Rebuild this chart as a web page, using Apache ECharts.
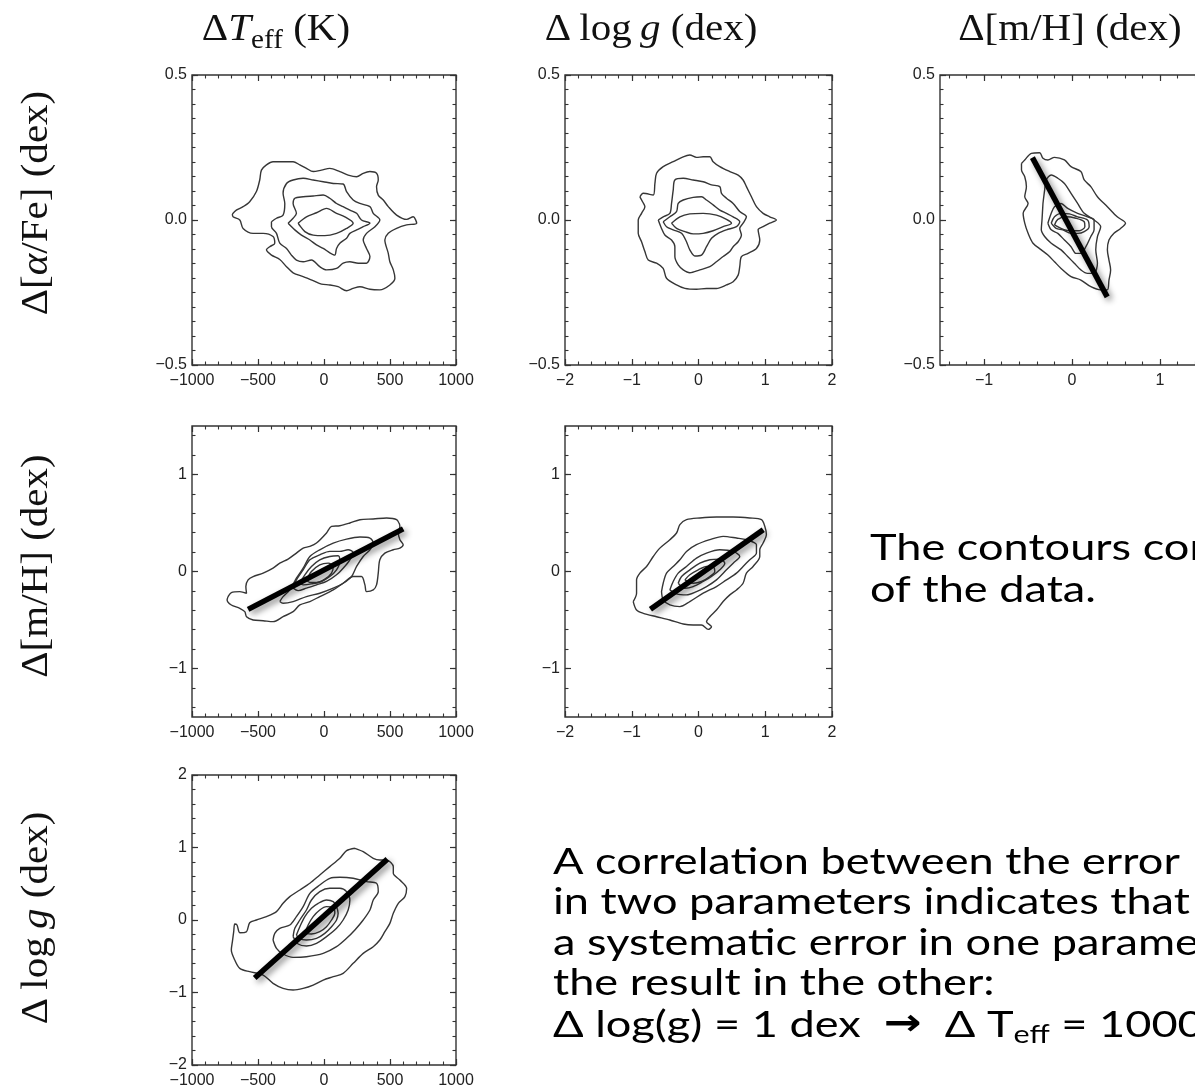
<!DOCTYPE html>
<html>
<head>
<meta charset="utf-8">
<script src="https://cdn.jsdelivr.net/npm/echarts@6/dist/echarts.min.js"></script>
<style>
  html, body { margin: 0; padding: 0; background: #ffffff; }
  #chart { width: 1195px; height: 1091px; }
</style>
</head>
<body>
<div id="chart"></div>
<script>
// ---- major tick values ----
const teffTicks = [-1000, -500, 0, 500, 1000];
const alphaTicks = [-0.5, 0, 0.5];
const loggTicksX = [-2, -1, 0, 1, 2];
const mhTicksX = [-1, 0, 1];
const mhTicksY = [-1, 0, 1];
const loggTicksY = [-2, -1, 0, 1, 2];

// ---- dTeff vs d[alpha/Fe] contours (K, dex) ----
const teffAlphaOuter = [[-694,0.021],[-664,0.034],[-613,0.046],[-563,0.063],[-512,0.098],[-487,0.138],[-474,0.172],[-436,0.190],[-386,0.201],[-234,0.201],[-183,0.190],[-133,0.178],[-82,0.167],[-19,0.172],[44,0.178],[120,0.167],[183,0.155],[247,0.149],[297,0.161],[348,0.167],[398,0.161],[411,0.138],[398,0.115],[411,0.086],[449,0.069],[487,0.046],[550,0.017],[626,0.002],[676,0.011],[702,-0.011],[626,-0.017],[550,-0.029],[487,-0.046],[461,-0.069],[487,-0.115],[499,-0.144],[525,-0.172],[537,-0.201],[499,-0.224],[423,-0.241],[348,-0.239],[272,-0.230],[221,-0.236],[171,-0.244],[107,-0.230],[44,-0.224],[-19,-0.221],[-82,-0.209],[-158,-0.195],[-234,-0.182],[-284,-0.161],[-335,-0.136],[-398,-0.121],[-436,-0.103],[-411,-0.092],[-373,-0.080],[-386,-0.057],[-461,-0.046],[-537,-0.046],[-613,-0.029],[-638,0],[-689,0.011],[-694,0.021]];
const teffAlphaL2 = [[-398,-0.006],[-360,0.006],[-310,0.017],[-297,0.057],[-310,0.092],[-284,0.126],[-234,0.138],[-158,0.144],[-82,0.138],[-6,0.132],[70,0.126],[145,0.124],[171,0.098],[221,0.069],[272,0.057],[348,0.046],[373,0.023],[423,0],[386,-0.023],[322,-0.046],[297,-0.069],[322,-0.098],[348,-0.126],[322,-0.149],[259,-0.149],[196,-0.144],[145,-0.149],[95,-0.167],[19,-0.172],[-32,-0.161],[-95,-0.138],[-158,-0.144],[-209,-0.138],[-247,-0.121],[-284,-0.098],[-335,-0.080],[-360,-0.046],[-398,-0.023],[-398,-0.006]];
const teffAlphaL3 = [[-272,-0.011],[-234,0.006],[-209,0.023],[-234,0.057],[-221,0.075],[-158,0.080],[-82,0.083],[-6,0.086],[44,0.075],[95,0.057],[145,0.046],[196,0.034],[247,0.023],[284,0],[348,-0.011],[297,-0.023],[247,-0.034],[196,-0.046],[171,-0.063],[120,-0.080],[95,-0.098],[82,-0.121],[44,-0.113],[-6,-0.098],[-57,-0.086],[-107,-0.069],[-171,-0.052],[-221,-0.034],[-272,-0.011]];
const teffAlphaInner = [[-196,-0.011],[-133,0.011],[-57,0.025],[19,0.040],[95,0.023],[158,0.011],[221,-0.011],[171,-0.029],[95,-0.046],[6,-0.054],[-82,-0.052],[-145,-0.040],[-196,-0.011]];
const teffAlphaSpots = [[-335,0.155]];

// ---- dlogg vs d[alpha/Fe] contours (dex, dex) ----
const loggAlphaOuter = [[-0.878,0.080],[-0.828,0.092],[-0.678,0.086],[-0.653,0.126],[-0.628,0.161],[-0.529,0.184],[-0.379,0.201],[-0.229,0.218],[-0.130,0.224],[-0.030,0.216],[0.070,0.218],[0.170,0.218],[0.219,0.201],[0.319,0.184],[0.469,0.167],[0.594,0.155],[0.668,0.138],[0.718,0.115],[0.793,0.080],[0.868,0.046],[0.968,0.023],[1.067,0.011],[1.167,0],[1.067,-0.011],[0.968,-0.023],[0.893,-0.034],[0.918,-0.069],[0.868,-0.098],[0.743,-0.115],[0.643,-0.126],[0.618,-0.161],[0.594,-0.190],[0.519,-0.213],[0.419,-0.224],[0.269,-0.236],[0.120,-0.236],[-0.030,-0.239],[-0.204,-0.236],[-0.329,-0.224],[-0.479,-0.201],[-0.529,-0.167],[-0.628,-0.149],[-0.753,-0.138],[-0.803,-0.109],[-0.853,-0.075],[-0.903,-0.046],[-0.903,0],[-0.853,0.023],[-0.803,0.046],[-0.838,0.063],[-0.878,0.080]];
const loggAlphaL2 = [[-0.603,0],[-0.529,0.011],[-0.429,0.023],[-0.404,0.057],[-0.379,0.103],[-0.354,0.138],[-0.229,0.144],[-0.080,0.138],[0.070,0.132],[0.195,0.121],[0.319,0.115],[0.344,0.092],[0.419,0.075],[0.519,0.057],[0.618,0.029],[0.718,0.011],[0.668,-0.011],[0.618,-0.029],[0.643,-0.052],[0.594,-0.075],[0.519,-0.092],[0.469,-0.109],[0.369,-0.126],[0.269,-0.144],[0.170,-0.161],[0.020,-0.172],[-0.130,-0.182],[-0.229,-0.172],[-0.304,-0.155],[-0.354,-0.126],[-0.354,-0.092],[-0.404,-0.069],[-0.504,-0.052],[-0.554,-0.029],[-0.603,0]];
const loggAlphaL3 = [[-0.529,-0.006],[-0.429,0.011],[-0.329,0.029],[-0.304,0.057],[-0.229,0.069],[-0.080,0.078],[0.045,0.080],[0.120,0.069],[0.219,0.052],[0.319,0.034],[0.419,0.023],[0.519,0.011],[0.618,-0.006],[0.569,-0.023],[0.419,-0.034],[0.294,-0.046],[0.195,-0.063],[0.120,-0.092],[0.045,-0.121],[-0.055,-0.124],[-0.130,-0.103],[-0.180,-0.075],[-0.254,-0.046],[-0.379,-0.034],[-0.479,-0.023],[-0.529,-0.006]];
const loggAlphaInner = [[-0.404,-0.011],[-0.279,0.011],[-0.130,0.021],[0.070,0.023],[0.269,0.017],[0.419,0.002],[0.494,-0.011],[0.369,-0.023],[0.219,-0.037],[0.070,-0.046],[-0.080,-0.048],[-0.204,-0.040],[-0.329,-0.029],[-0.404,-0.011]];

// ---- d[m/H] vs d[alpha/Fe] contours (dex, dex) ----
const mhAlphaOuter = [[-0.574,0.195],[-0.537,0.207],[-0.462,0.230],[-0.368,0.232],[-0.330,0.213],[-0.274,0.207],[-0.199,0.216],[-0.086,0.207],[-0.011,0.184],[0.101,0.167],[0.139,0.138],[0.214,0.115],[0.289,0.080],[0.402,0.046],[0.514,0.011],[0.608,-0.011],[0.552,-0.029],[0.477,-0.046],[0.420,-0.069],[0.402,-0.103],[0.420,-0.138],[0.439,-0.172],[0.420,-0.207],[0.402,-0.241],[0.326,-0.241],[0.214,-0.230],[0.101,-0.207],[-0.011,-0.195],[-0.124,-0.167],[-0.199,-0.144],[-0.274,-0.121],[-0.349,-0.103],[-0.443,-0.080],[-0.499,-0.046],[-0.537,-0.011],[-0.555,0.023],[-0.499,0.057],[-0.537,0.080],[-0.518,0.115],[-0.537,0.149],[-0.574,0.172],[-0.574,0.195]];
const mhAlphaL2 = [[-0.330,0.057],[-0.311,0.103],[-0.293,0.138],[-0.236,0.155],[-0.161,0.144],[-0.086,0.126],[-0.011,0.092],[0.064,0.057],[0.139,0.023],[0.251,0],[0.326,-0.023],[0.289,-0.057],[0.270,-0.103],[0.289,-0.149],[0.251,-0.184],[0.176,-0.184],[0.101,-0.172],[0.026,-0.149],[-0.049,-0.126],[-0.124,-0.103],[-0.236,-0.080],[-0.311,-0.057],[-0.349,-0.034],[-0.341,0],[-0.330,0.057]];
const mhAlphaL3 = [[-0.274,-0.011],[-0.236,0.023],[-0.199,0.046],[-0.124,0.057],[-0.049,0.040],[0.064,0.023],[0.176,0.011],[0.251,0],[0.251,-0.034],[0.214,-0.057],[0.158,-0.092],[0.101,-0.115],[0.045,-0.115],[-0.011,-0.092],[-0.086,-0.069],[-0.161,-0.046],[-0.236,-0.034],[-0.274,-0.011]];
const mhAlphaL4 = [[-0.236,-0.011],[-0.199,0.011],[-0.124,0.023],[-0.030,0.021],[0.064,0.011],[0.176,0],[0.195,-0.023],[0.139,-0.040],[0.064,-0.046],[-0.011,-0.046],[-0.105,-0.034],[-0.180,-0.029],[-0.236,-0.011]];
const mhAlphaInner = [[-0.199,-0.017],[-0.161,0.002],[-0.068,0.011],[0.045,0.006],[0.139,-0.006],[0.146,-0.023],[0.083,-0.037],[-0.030,-0.037],[-0.124,-0.029],[-0.199,-0.017]];
const mhAlphaSpots = [[-0.687,0.002]];
const mhAlphaFit = [[-0.45,0.215],[0.40,-0.265]];

// ---- dTeff vs d[m/H] contours (K, dex) ----
const teffMhOuter = [[-727,-0.259],[-702,-0.217],[-638,-0.207],[-587,-0.224],[-592,-0.155],[-575,-0.086],[-537,-0.052],[-461,-0.017],[-386,0.034],[-335,0.086],[-272,0.128],[-209,0.190],[-158,0.241],[-107,0.259],[-57,0.293],[19,0.397],[57,0.466],[120,0.472],[196,0.500],[272,0.534],[373,0.541],[474,0.552],[550,0.534],[575,0.466],[563,0.397],[575,0.328],[600,0.276],[575,0.241],[525,0.224],[461,0.190],[423,0.121],[411,-0.017],[398,-0.138],[373,-0.190],[322,-0.207],[310,-0.138],[284,-0.052],[221,-0.052],[145,-0.121],[70,-0.190],[-32,-0.259],[-107,-0.310],[-183,-0.345],[-234,-0.414],[-310,-0.466],[-386,-0.517],[-461,-0.507],[-537,-0.500],[-587,-0.466],[-600,-0.414],[-638,-0.379],[-702,-0.345],[-734,-0.293],[-727,-0.259]];
const teffMhL2 = [[-335,-0.310],[-310,-0.259],[-259,-0.190],[-209,-0.069],[-158,0.034],[-107,0.155],[-32,0.224],[70,0.293],[171,0.334],[272,0.355],[348,0.345],[373,0.293],[348,0.224],[297,0.155],[247,0.052],[209,-0.052],[145,-0.121],[70,-0.172],[-32,-0.224],[-133,-0.259],[-234,-0.310],[-310,-0.328],[-335,-0.310]];
const teffMhL3 = [[-234,-0.172],[-209,-0.086],[-158,0.017],[-107,0.121],[-32,0.172],[44,0.207],[120,0.207],[183,0.224],[221,0.197],[196,0.121],[145,0.034],[95,-0.034],[19,-0.103],[-57,-0.138],[-133,-0.172],[-196,-0.197],[-234,-0.172]];
const teffMhL4 = [[-183,-0.121],[-145,-0.034],[-95,0.052],[-32,0.121],[44,0.155],[107,0.162],[120,0.103],[95,0.017],[44,-0.052],[-19,-0.103],[-95,-0.128],[-158,-0.138],[-183,-0.121]];
const teffMhInner = [[-133,-0.086],[-95,0],[-32,0.069],[32,0.086],[70,0.052],[57,-0.017],[6,-0.079],[-57,-0.114],[-107,-0.114],[-133,-0.086]];
const teffMhSpots = [[588,0.528]];
const teffMhFit = [[-575,-0.39],[600,0.44]];

// ---- dlogg vs d[m/H] contours (dex, dex) ----
const loggMhOuter = [[-0.978,-0.310],[-0.928,-0.224],[-0.928,-0.086],[-0.878,-0.017],[-0.778,0.052],[-0.678,0.155],[-0.579,0.241],[-0.429,0.328],[-0.329,0.397],[-0.279,0.483],[-0.180,0.534],[0.020,0.552],[0.269,0.562],[0.519,0.562],[0.768,0.552],[0.943,0.534],[0.993,0.466],[1.017,0.379],[0.968,0.293],[0.918,0.224],[0.918,0.155],[0.818,0.052],[0.718,-0.017],[0.668,-0.121],[0.569,-0.190],[0.469,-0.241],[0.369,-0.310],[0.269,-0.397],[0.170,-0.466],[0.120,-0.517],[0.195,-0.569],[0.145,-0.597],[0.045,-0.552],[-0.080,-0.552],[-0.229,-0.541],[-0.429,-0.500],[-0.628,-0.466],[-0.828,-0.431],[-0.928,-0.397],[-0.978,-0.310]];
const loggMhL2 = [[-0.554,-0.207],[-0.529,-0.121],[-0.479,-0.017],[-0.379,0.052],[-0.279,0.121],[-0.180,0.207],[-0.030,0.276],[0.170,0.328],[0.369,0.362],[0.569,0.345],[0.718,0.328],[0.868,0.276],[0.868,0.190],[0.768,0.121],[0.668,0.052],[0.569,-0.017],[0.419,-0.086],[0.269,-0.155],[0.070,-0.224],[-0.130,-0.310],[-0.279,-0.362],[-0.429,-0.345],[-0.529,-0.293],[-0.554,-0.207]];
const loggMhL3 = [[-0.429,-0.190],[-0.379,-0.103],[-0.304,-0.017],[-0.180,0.052],[-0.030,0.138],[0.120,0.190],[0.319,0.224],[0.519,0.207],[0.618,0.155],[0.519,0.086],[0.419,0.017],[0.269,-0.086],[0.120,-0.155],[-0.030,-0.207],[-0.180,-0.241],[-0.329,-0.231],[-0.429,-0.190]];
const loggMhL4 = [[-0.304,-0.121],[-0.254,-0.052],[-0.130,0.017],[0.020,0.086],[0.170,0.121],[0.319,0.128],[0.394,0.086],[0.319,0.017],[0.195,-0.052],[0.070,-0.103],[-0.080,-0.155],[-0.204,-0.172],[-0.304,-0.121]];
const loggMhInner = [[-0.204,-0.086],[-0.130,-0.034],[-0.005,0.017],[0.120,0.052],[0.219,0.052],[0.244,0],[0.170,-0.052],[0.045,-0.103],[-0.080,-0.121],[-0.204,-0.086]];
const loggMhSpots = [[-0.26,-0.67]];
const loggMhFit = [[-0.72,-0.39],[0.97,0.43]];

// ---- dTeff vs dlogg contours (K, dex) ----
const teffLoggOuter = [[234,0.989],[297,0.943],[373,0.851],[423,0.828],[474,0.828],[525,0.736],[525,0.644],[575,0.552],[626,0.437],[613,0.322],[563,0.230],[525,0.092],[499,-0.046],[461,-0.161],[423,-0.276],[373,-0.368],[297,-0.460],[221,-0.598],[145,-0.736],[70,-0.782],[-6,-0.828],[-82,-0.897],[-158,-0.943],[-234,-0.966],[-310,-0.943],[-386,-0.874],[-461,-0.759],[-563,-0.713],[-638,-0.667],[-676,-0.552],[-702,-0.414],[-694,-0.299],[-684,-0.161],[-676,-0.055],[-659,-0.069],[-638,-0.175],[-587,-0.161],[-563,-0.037],[-512,0],[-436,0.046],[-360,0.115],[-310,0.230],[-259,0.322],[-183,0.414],[-107,0.506],[-32,0.621],[44,0.736],[120,0.851],[171,0.956],[234,0.989]];
const teffLoggL2 = [[-386,-0.276],[-373,-0.184],[-335,-0.115],[-259,-0.069],[-209,0.046],[-158,0.184],[-107,0.368],[-32,0.483],[44,0.575],[120,0.589],[221,0.575],[322,0.529],[398,0.506],[411,0.391],[373,0.276],[348,0.138],[297,0],[234,-0.138],[171,-0.253],[95,-0.368],[-6,-0.460],[-133,-0.506],[-234,-0.515],[-310,-0.469],[-360,-0.391],[-386,-0.276]];
const teffLoggL3 = [[-234,-0.230],[-221,-0.115],[-183,0],[-133,0.138],[-95,0.276],[-32,0.391],[44,0.437],[120,0.437],[171,0.391],[196,0.276],[183,0.138],[145,0],[95,-0.115],[19,-0.230],[-57,-0.322],[-133,-0.359],[-196,-0.331],[-234,-0.230]];
const teffLoggL4 = [[-209,-0.207],[-183,-0.092],[-145,0.046],[-95,0.161],[-44,0.230],[19,0.276],[70,0.253],[95,0.184],[107,0.092],[95,0],[57,-0.092],[6,-0.184],[-57,-0.253],[-133,-0.276],[-183,-0.262],[-209,-0.207]];
const teffLoggInner = [[-145,-0.184],[-120,-0.069],[-82,0.046],[-32,0.138],[19,0.184],[70,0.175],[82,0.092],[57,0],[19,-0.092],[-32,-0.161],[-95,-0.193],[-145,-0.184]];
const teffLoggSpots = [[626,0.84],[-272,-1.07]];
const teffLoggFit = [[-525,-0.80],[480,0.84]];

// ---- panel layout ----
const panels = [
  { box: { left: 192, top: 75, width: 264, height: 290 }, x: [-1000, 1000], y: [-0.5, 0.5],
    xt: teffTicks, yt: alphaTicks, xStep: 100, yStep: 0.05, xd: 0, yd: 1,
    lines: [teffAlphaOuter, teffAlphaL2, teffAlphaL3, teffAlphaInner], spots: teffAlphaSpots, fit: null },
  { box: { left: 565, top: 75, width: 267, height: 290 }, x: [-2, 2], y: [-0.5, 0.5],
    xt: loggTicksX, yt: alphaTicks, xStep: 0.2, yStep: 0.05, xd: 0, yd: 1,
    lines: [loggAlphaOuter, loggAlphaL2, loggAlphaL3, loggAlphaInner], spots: [], fit: null },
  { box: { left: 940, top: 75, width: 264, height: 290 }, x: [-1.5, 1.5], y: [-0.5, 0.5],
    xt: mhTicksX, yt: alphaTicks, xStep: 0.2, yStep: 0.05, xd: 0, yd: 1,
    lines: [mhAlphaOuter, mhAlphaL2, mhAlphaL3, mhAlphaL4, mhAlphaInner], spots: mhAlphaSpots, fit: mhAlphaFit },
  { box: { left: 192, top: 426, width: 264, height: 291 }, x: [-1000, 1000], y: [-1.5, 1.5],
    xt: teffTicks, yt: mhTicksY, xStep: 100, yStep: 0.2, xd: 0, yd: 0,
    lines: [teffMhOuter, teffMhL2, teffMhL3, teffMhL4, teffMhInner], spots: teffMhSpots, fit: teffMhFit },
  { box: { left: 565, top: 426, width: 267, height: 291 }, x: [-2, 2], y: [-1.5, 1.5],
    xt: loggTicksX, yt: mhTicksY, xStep: 0.2, yStep: 0.2, xd: 0, yd: 0,
    lines: [loggMhOuter, loggMhL2, loggMhL3, loggMhL4, loggMhInner], spots: loggMhSpots, fit: loggMhFit },
  { box: { left: 192, top: 775, width: 264, height: 290 }, x: [-1000, 1000], y: [-2, 2],
    xt: teffTicks, yt: loggTicksY, xStep: 100, yStep: 0.2, xd: 0, yd: 0,
    lines: [teffLoggOuter, teffLoggL2, teffLoggL3, teffLoggL4, teffLoggInner], spots: teffLoggSpots, fit: teffLoggFit }
];

const INK = '#333333';
const LABEL_FONT = 'Liberation Sans';
const SERIF = 'Liberation Serif';
const SANS = 'Lato';

// minor tick positions between min and max, aligned on multiples of step
function minorValues(min, max, step) {
  const out = [];
  const k0 = Math.ceil(min / step - 1e-9), k1 = Math.floor(max / step + 1e-9);
  for (let k = k0; k <= k1; k++) out.push(+(k * step).toFixed(6));
  return out;
}
function fmt(d) {
  return function (v) {
    const s = Math.abs(v).toFixed(d);
    return v < -1e-9 ? '\u2212' + s : s;
  };
}

const grids = [], xAxes = [], yAxes = [], series = [];

panels.forEach(function (p, i) {
  grids.push(Object.assign({ show: true, borderColor: INK, borderWidth: 1.4,
    backgroundColor: 'transparent', containLabel: false, outerBoundsMode: 'none' }, p.box));

  const xMinor = minorValues(p.x[0], p.x[1], p.xStep);
  const yMinor = minorValues(p.y[0], p.y[1], p.yStep);
  const common = { gridIndex: i, type: 'value', splitLine: { show: false },
    axisLine: { show: false, onZero: false }, silent: true };

  // bottom / top x axes: labelled majors, then minor ticks, mirrored on top
  [['bottom', true], ['top', false]].forEach(function (cfg) {
    xAxes.push(Object.assign({}, common, {
      position: cfg[0], min: p.x[0], max: p.x[1],
      axisTick: { show: true, inside: true, length: 6, customValues: p.xt, lineStyle: { color: INK, width: 1.2 } },
      axisLabel: { show: cfg[1], customValues: p.xt, formatter: fmt(p.xd), margin: 8,
        fontFamily: LABEL_FONT, fontSize: 16, color: '#222' }
    }));
    xAxes.push(Object.assign({}, common, {
      position: cfg[0], min: p.x[0], max: p.x[1],
      axisTick: { show: true, inside: true, length: 3.5, customValues: xMinor, lineStyle: { color: INK, width: 1.1 } },
      axisLabel: { show: false }
    }));
  });
  [['left', true], ['right', false]].forEach(function (cfg) {
    yAxes.push(Object.assign({}, common, {
      position: cfg[0], min: p.y[0], max: p.y[1],
      axisTick: { show: true, inside: true, length: 6, customValues: p.yt, lineStyle: { color: INK, width: 1.2 } },
      axisLabel: { show: cfg[1], customValues: p.yt, formatter: fmt(p.yd), margin: 5,
        fontFamily: LABEL_FONT, fontSize: 16, color: '#222' }
    }));
    yAxes.push(Object.assign({}, common, {
      position: cfg[0], min: p.y[0], max: p.y[1],
      axisTick: { show: true, inside: true, length: 3.5, customValues: yMinor, lineStyle: { color: INK, width: 1.1 } },
      axisLabel: { show: false }
    }));
  });

  const xi = i * 4, yi = i * 4;
  p.lines.forEach(function (d) {
    series.push({ type: 'line', xAxisIndex: xi, yAxisIndex: yi, data: d, showSymbol: false, smooth: 0.3,
      lineStyle: { color: '#363636', width: 1.4 }, silent: true, z: 2 });
  });
  if (p.spots.length) {
    series.push({ type: 'scatter', xAxisIndex: xi, yAxisIndex: yi, data: p.spots, symbol: 'emptyCircle',
      symbolSize: 4, itemStyle: { color: '#fff', borderColor: '#363636', borderWidth: 1.2 }, silent: true, z: 2 });
  }
  if (p.fit) {
    series.push({ type: 'line', xAxisIndex: xi, yAxisIndex: yi, data: p.fit, showSymbol: false,
      lineStyle: { color: '#000', width: 5.5, cap: 'butt', shadowBlur: 6, shadowColor: 'rgba(0,0,0,0.45)',
        shadowOffsetX: 3, shadowOffsetY: 3 }, silent: true, z: 5 });
  }
});

// ---- axis titles and notes ----
function serifRich(size) {
  return {
    n: { fontFamily: SERIF, fontSize: size, fill: '#111' },
    i: { fontFamily: SERIF, fontSize: size, fontStyle: 'italic', fill: '#111' },
    s: { fontFamily: SERIF, fontSize: Math.round(size * 0.7), fill: '#111', padding: [Math.round(size * 0.55), 0, 0, 0] }
  };
}
function sansRich(size) {
  return {
    n: { fontFamily: SANS, fontSize: size, fill: '#000' },
    a: { fontFamily: 'DejaVu Sans', fontSize: size, fontWeight: 'bold', fill: '#000' },
    s: { fontFamily: SANS, fontSize: Math.round(size * 0.68), fill: '#000', padding: [Math.round(size * 0.55), 0, 0, 0] }
  };
}
function label(text, x, y, rich, opts) {
  opts = opts || {};
  return { type: 'text', x: x, y: y, rotation: opts.rotation || 0, scaleX: opts.scaleX || 1, silent: true,
    style: { text: text, rich: rich, align: opts.align || 'left', verticalAlign: 'middle' } };
}

const TITLE = serifRich(38);
const NOTE = sansRich(37);
const titleOpts = { align: 'center', scaleX: 1.08 };
const rowOpts = { align: 'center', scaleX: 1.08, rotation: Math.PI / 2 };
const noteOpts = { scaleX: 1.22 };

const graphics = [
  label('{n|\u0394}{i|T}{s|eff}{n| (K)}', 276, 30, TITLE, titleOpts),
  label('{n|\u0394\u2009log\u2009}{i|g}{n| (dex)}', 651, 30, TITLE, titleOpts),
  label('{n|\u0394[m/H] (dex)}', 1070, 30, TITLE, titleOpts),
  label('{n|\u0394[}{i|\u03b1}{n|/Fe] (dex)}', 37, 203, TITLE, rowOpts),
  label('{n|\u0394[m/H] (dex)}', 37, 566, TITLE, rowOpts),
  label('{n|\u0394\u2009log\u2009}{i|g}{n| (dex)}', 37, 918, TITLE, rowOpts),
  label('{n|The contours cor}', 870, 548, NOTE, noteOpts),
  label('{n|of the data.}', 870, 590, NOTE, noteOpts),
  label('{n|A correlation between the error}', 553, 862, NOTE, noteOpts),
  label('{n|in two parameters indicates that}', 553, 902, NOTE, noteOpts),
  label('{n|a systematic error in one parame}', 553, 943, NOTE, noteOpts),
  label('{n|the result in the other:}', 553, 983, NOTE, noteOpts),
  label('{n|\u0394 log(g) = 1 dex  }{a|\u2192}{n|  \u0394 T}{s|eff}{n| = 1000}', 553, 1025, NOTE, noteOpts)
];

const chart = echarts.init(document.getElementById('chart'), null, { renderer: 'canvas' });
chart.setOption({
  animation: false,
  backgroundColor: '#ffffff',
  grid: grids,
  xAxis: xAxes,
  yAxis: yAxes,
  series: series,
  graphic: graphics
});
</script>
</body>
</html>
